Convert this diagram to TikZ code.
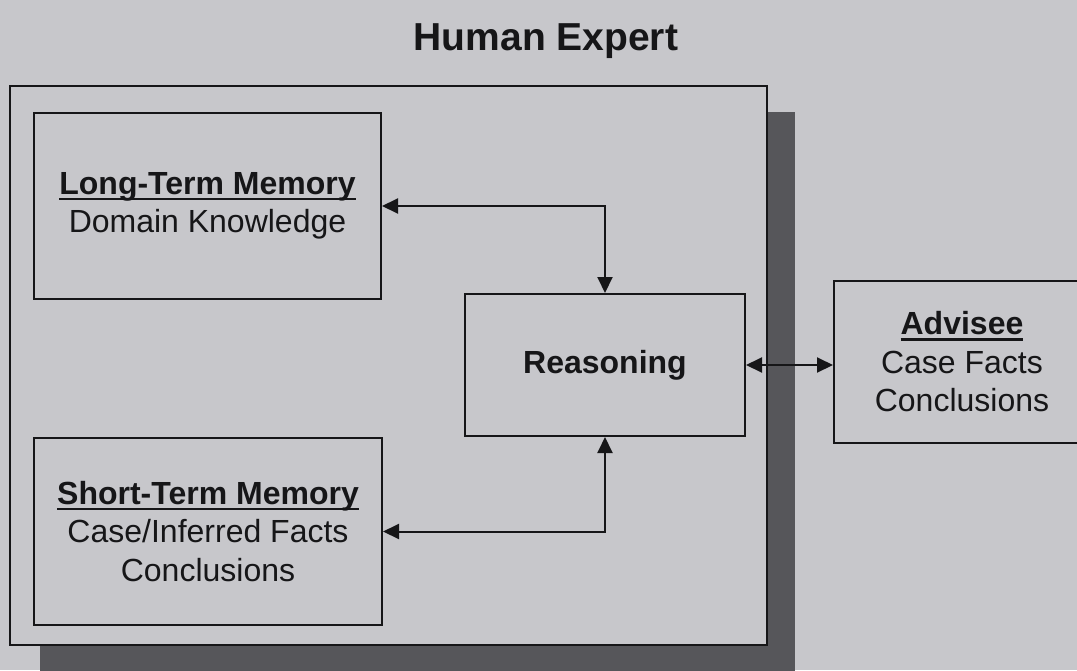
\documentclass[tikz,border=0pt]{standalone}
\usepackage{fontspec}
\setmainfont{Liberation Sans}
\usetikzlibrary{arrows.meta}
\definecolor{paper}{RGB}{199,199,203}
\definecolor{ink}{RGB}{22,22,24}
\definecolor{shadowgrey}{RGB}{86,86,90}
\newcommand{\hdul}[1]{\setbox0\hbox{#1}\rlap{\rule[-6pt]{\wd0}{2.5pt}}\box0}
\tikzset{
	memory/.style={draw = ink, text = ink, line width = 2pt, fill = paper, align = center, inner sep = 0pt, font = \fontsize{32}{38.5}\selectfont},
	link/.style={draw = ink, line width = 2pt, {Triangle[length=16pt,width=15pt]}-{Triangle[length=16pt,width=15pt]}}
}
\begin{document}
\begin{tikzpicture}[x=1pt, y=-1pt]
		\useasboundingbox (0,0) rectangle (1077,670);
		\clip (0,0) rectangle (1077,670);
		\fill[paper] (0,0) rectangle (1077,670);
		% expert frame with its shadow
		\fill[shadowgrey] (40,112) rectangle (795,690);
		\draw[ink, line width = 2pt, fill = paper] (10,86) rectangle (767,645);
		\node (title)[anchor = base, text = ink, font = \fontsize{39}{45}\selectfont\bfseries] at (546,50) {Human Expert};
		%
		\node (ltm)[memory, anchor = north west, minimum width = 347pt, minimum height = 186pt] at (33,112) {\hdul{\bfseries Long-Term Memory}\\Domain Knowledge};
		\node (stm)[memory, anchor = north west, minimum width = 348pt, minimum height = 187pt] at (33,437) {\hdul{\bfseries Short-Term Memory}\\Case/Inferred Facts\\Conclusions};
		\node (reas)[memory, anchor = north west, minimum width = 280pt, minimum height = 142pt] at (464,293) {\bfseries Reasoning};
		\node (adv)[memory, anchor = north west, minimum width = 256pt, minimum height = 162pt] at (833,280) {\hdul{\bfseries Advisee}\\Case Facts\\Conclusions};
		%
		\draw[link] (ltm.east) -| (reas.north);
		\draw[link] (stm.east) -| (reas.south);
		\draw[link] (reas.east) -- (reas.east -| adv.west);
	\end{tikzpicture}
\end{document}
